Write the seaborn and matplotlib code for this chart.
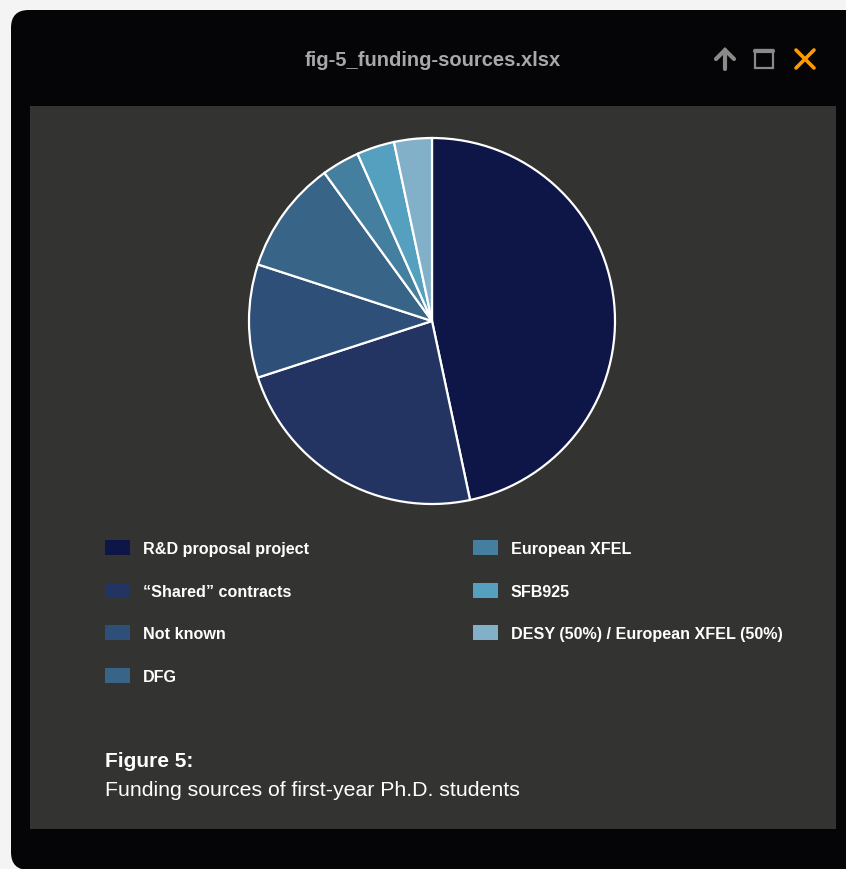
import matplotlib
matplotlib.use("Agg")
import matplotlib.pyplot as plt
import seaborn as sns
from matplotlib.patches import FancyBboxPatch, Rectangle
from matplotlib.lines import Line2D

# ---- data ----
categories = ["R&D proposal project", "\u201cShared\u201d contracts", "Not known", "DFG",
              "European XFEL", "SFB925", "DESY (50%) / European XFEL (50%)"]
counts = [14, 7, 3, 3, 1, 1, 1]
colors = ["#0d1646", "#233462", "#2e4f78", "#386488", "#457f9f", "#559fbf", "#82b0c8"]
window_title = "fig-5_funding-sources.xlsx"
caption_title = "Figure 5:"
caption_text = "Funding sources of first-year Ph.D. students"

sns.set_theme(style="white")
plt.rcParams["font.family"] = ["Liberation Sans", "DejaVu Sans"]

W, H = 846, 870
fig = plt.figure(figsize=(W / 100, H / 100), dpi=100)
fig.patch.set_facecolor("#f4f4f4")

def fx(px):
    return px / W

def fy(py):
    return 1 - py / H

# window (black rounded) and inner dark panel
win = FancyBboxPatch((fx(11), fy(871)), fx(880) - fx(11), fy(11) - fy(871),
                     boxstyle="round,pad=0,rounding_size=0.021",
                     transform=fig.transFigure, facecolor="#050507", edgecolor="none",
                     mutation_aspect=W / H, zorder=0)
fig.patches.append(win)
panel = Rectangle((fx(30), fy(830)), fx(836) - fx(30), fy(107) - fy(830),
                  transform=fig.transFigure, facecolor="#333331", edgecolor="none", zorder=0.5)
fig.patches.append(panel)

# title bar
fig.text(fx(433), fy(61), window_title, ha="center", va="center", fontsize=14.5,
         fontweight="bold", color="#a8a8a8")
gray = "#8a8a8a"
# up arrow
fig.add_artist(Line2D([fx(725), fx(725)], [fy(70), fy(51)], color=gray, lw=3,
                      transform=fig.transFigure))
fig.add_artist(Line2D([fx(716), fx(725), fx(734)], [fy(60), fy(51), fy(60)], color=gray,
                      lw=3, transform=fig.transFigure, solid_joinstyle="miter"))
# square
fig.patches.append(Rectangle((fx(755), fy(69)), fx(773) - fx(755), fy(51) - fy(69),
                             transform=fig.transFigure, facecolor="none", edgecolor=gray, lw=1.6))
fig.add_artist(Line2D([fx(755), fx(773)], [fy(51.5), fy(51.5)], color=gray, lw=3,
                      transform=fig.transFigure))
# orange X
orange = "#ff9900"
fig.add_artist(Line2D([fx(796), fx(814)], [fy(51), fy(69)], color=orange, lw=2.6,
                      transform=fig.transFigure))
fig.add_artist(Line2D([fx(796), fx(814)], [fy(69), fy(51)], color=orange, lw=2.6,
                      transform=fig.transFigure))

# pie
cx, cy, r = 432, 322, 183
ax = fig.add_axes([fx(cx - r), fy(cy + r), (2 * r) / W, (2 * r) / H])
ax.set_zorder(5)
ax.patch.set_alpha(0)
ax.pie(counts, colors=colors, startangle=90, counterclock=False,
       wedgeprops=dict(edgecolor="white", linewidth=1.6), radius=1.0)
ax.set_xlim(-1.0, 1.0)
ax.set_ylim(-1.0, 1.0)
ax.set_aspect("equal")
ax.axis("off")

# legend (two columns: 4 + 3)
row_y = [548, 591, 633, 676]
for i, (lab, col) in enumerate(zip(categories, colors)):
    c = 0 if i < 4 else 1
    rr = i if i < 4 else i - 4
    x0 = 105 if c == 0 else 473
    y0 = row_y[rr]
    fig.patches.append(Rectangle((fx(x0), fy(y0 + 7.5)), 25 / W, 15 / H,
                                 transform=fig.transFigure, facecolor=col, edgecolor="none",
                                 zorder=2))
    fig.text(fx(x0 + 38), fy(y0 + 1.5), lab, ha="left", va="center", fontsize=11.6,
             fontweight="bold", color="white")

# caption
fig.text(fx(105), fy(762), caption_title, ha="left", va="center", fontsize=15,
         fontweight="bold", color="white")
fig.text(fx(105), fy(790.5), caption_text, ha="left", va="center", fontsize=15.3,
         color="white")

fig.savefig("out.png", dpi=100, facecolor=fig.get_facecolor())
